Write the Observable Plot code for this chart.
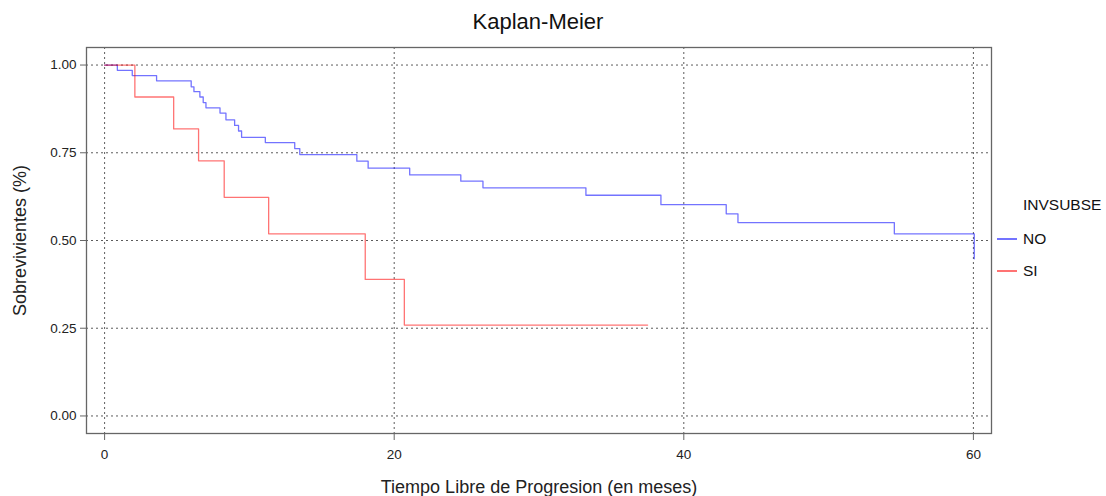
<!DOCTYPE html>
<html>
<head>
<meta charset="utf-8">
<script src="https://cdn.jsdelivr.net/npm/d3@7"></script>
<script src="https://cdn.jsdelivr.net/npm/@observablehq/plot@0.6"></script>
<style>
  html, body { margin: 0; padding: 0; background: #fff; }
  body { width: 1106px; height: 496px; position: relative; overflow: hidden; font-family: "Liberation Sans", Arial, sans-serif; }
  #title { height: 40px; line-height: 44px; text-align: center; width: 1076px; font-size: 22px; color: #111; }
  #chart { position: absolute; left: 0; top: 40px; }
  #legend { position: absolute; left: 997px; top: 193px; font-size: 15.5px; color: #111; }
  #legend .ttl { margin-left: 26px; height: 24px; line-height: 24px; margin-bottom: 6px; }
  #legend .row { display: flex; align-items: center; height: 32px; }
  #legend .sw { display: inline-block; width: 20px; height: 1.3px; margin-right: 6px; }
</style>
</head>
<body>
<div id="title">Kaplan-Meier</div>
<div id="chart"></div>
<div id="legend"></div>
<script>
// Group names
const groups = ["NO", "SI"];
const groupColors = ["#0000ff", "#ff0000"];
const legendTitle = "INVSUBSE";

// NO group: step times (months) and survival
const noTime = [0, 0.88, 1.91, 3.59, 5.98, 6.17, 6.58, 6.81, 7.0, 7.97, 8.38, 8.98, 9.25, 9.46, 11.1, 13.13, 13.48, 17.42, 18.2, 21.07, 24.6, 26.13, 33.24, 38.42, 42.93, 43.74, 54.54, 60.06];
const noSurv = [1, 0.985, 0.970, 0.955, 0.938, 0.924, 0.909, 0.893, 0.878, 0.863, 0.844, 0.828, 0.812, 0.794, 0.779, 0.762, 0.745, 0.726, 0.706, 0.687, 0.669, 0.650, 0.629, 0.602, 0.576, 0.551, 0.519, 0.448];

// SI group
const siTime = [0, 2.09, 4.77, 6.49, 8.26, 11.33, 18.0, 20.7, 37.5];
const siSurv = [1, 0.909, 0.818, 0.727, 0.623, 0.519, 0.389, 0.259, 0.259];

// Axis ticks
const xTicks = [0, 20, 40, 60];
const yTicks = [0, 0.25, 0.5, 0.75, 1];

const data = [
  ...noTime.map((t, i) => ({group: "NO", t, s: noSurv[i]})),
  ...siTime.map((t, i) => ({group: "SI", t, s: siSurv[i]}))
];

const plot = Plot.plot({
  width: 995,
  height: 456,
  marginLeft: 86,
  marginRight: 4,
  marginTop: 7,
  marginBottom: 63,
  style: {fontFamily: "'Liberation Sans', Arial, sans-serif", fontSize: "13px", color: "#222", background: "#fff"},
  x: {domain: [-1.25, 61.25]},
  y: {domain: [-0.05, 1.05]},
  color: {domain: groups, range: groupColors},
  marks: [
    Plot.gridX(xTicks, {stroke: "#333", strokeOpacity: 0.8, strokeDasharray: "2,3"}),
    Plot.gridY(yTicks, {stroke: "#333", strokeOpacity: 0.8, strokeDasharray: "2,3"}),
    Plot.frame({stroke: "#666", strokeWidth: 1.3}),
    Plot.axisX(xTicks, {tickSize: 7, tickPadding: 9, stroke: "#666", fontSize: 13.5,
      label: "Tiempo Libre de Progresion (en meses)", labelAnchor: "center", labelArrow: "none", labelOffset: 59}),
    Plot.axisY(yTicks, {tickSize: 6, tickPadding: 4, stroke: "#666", fontSize: 13.5, tickFormat: d3.format(".2f"),
      label: "Sobrevivientes (%)", labelAnchor: "center", labelArrow: "none", labelOffset: 73}),
    Plot.line(data, {x: "t", y: "s", z: "group", stroke: "group", curve: "step-after", strokeWidth: 1.3, strokeOpacity: 0.55})
  ]
});

// enlarge axis titles
plot.querySelectorAll("g[aria-label='x-axis label'] text, g[aria-label='y-axis label'] text").forEach(t => t.setAttribute("font-size", "18px"));
document.getElementById("chart").appendChild(plot);

const lg = document.getElementById("legend");
const ttl = document.createElement("div");
ttl.className = "ttl";
ttl.textContent = legendTitle;
lg.appendChild(ttl);
groups.forEach((g, i) => {
  const row = document.createElement("div");
  row.className = "row";
  const sw = document.createElement("span");
  sw.className = "sw";
  sw.style.background = groupColors[i];
  sw.style.opacity = 0.55;
  const tx = document.createElement("span");
  tx.textContent = g;
  row.appendChild(sw);
  row.appendChild(tx);
  lg.appendChild(row);
});
</script>
</body>
</html>
